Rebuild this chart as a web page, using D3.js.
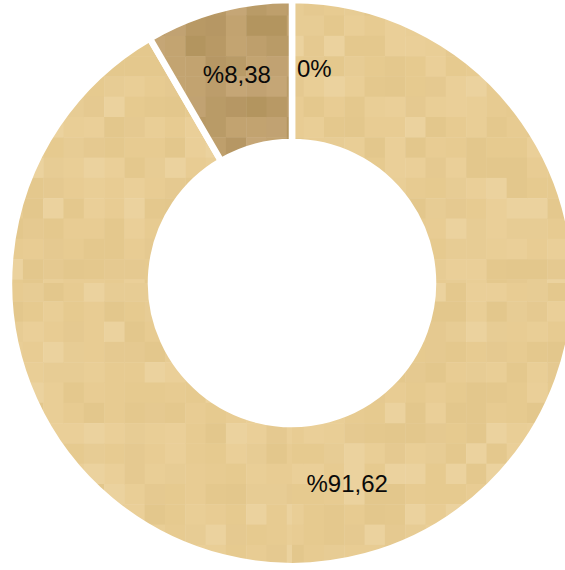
<!DOCTYPE html>
<html>
<head>
<meta charset="utf-8">
<script src="https://cdn.jsdelivr.net/npm/d3@7"></script>
<style>
  body { margin: 0; background: #fff; }
  svg { display: block; }
</style>
</head>
<body>
<div id="donut-chart"></div>
<script>
// Chart data
const sliceNames = ['C', 'A', 'B'];
const sliceValues = [0, 91.62, 8.38];
const sliceLabels = ['0%', '%91,62', '%8,38'];

const width = 565;
const height = 570;
const cx = 292;
const cy = 283;
const outerRadius = 283;
const innerRadius = 141;

const svg = d3.select('#donut-chart')
  .append('svg')
  .attr('width', width)
  .attr('height', height);

// Mosaic textures (decorative only)
const palettes = {
  light: ['#e8cc93', '#e6ca8f', '#eacf98', '#e4c88d', '#e7cb91', '#ebd29e', '#e5c990', '#e7cc94', '#e9ce96', '#e3c78c'],
  dark: ['#bc9d6b', '#c1a272', '#b89965', '#c5a676', '#b69764', '#be9f6c', '#c3a471', '#b99b67', '#b3955f', '#c2a370']
};
const hash = (i, j) => {
  const s = Math.sin(i * 127.1 + j * 311.7) * 43758.5453;
  return s - Math.floor(s);
};
const cell = 20.3;
const defs = svg.append('defs');
Object.keys(palettes).forEach(key => {
  const pat = defs.append('pattern')
    .attr('id', 'mosaic-' + key)
    .attr('patternUnits', 'userSpaceOnUse')
    .attr('x', 0).attr('y', 0)
    .attr('width', width).attr('height', height);
  const cells = [];
  d3.range(-1, 29).forEach(i => d3.range(-1, 29).forEach(j => cells.push([i, j])));
  pat.selectAll('rect')
    .data(cells)
    .enter()
    .append('rect')
    .attr('x', d => 11.7 + d[0] * cell)
    .attr('y', d => -2 + d[1] * cell)
    .attr('width', cell + 0.5)
    .attr('height', cell + 0.5)
    .attr('fill', d => {
      const p = palettes[key];
      return p[Math.floor(hash(d[0], d[1]) * p.length)];
    });
});
const fills = { A: 'url(#mosaic-light)', B: 'url(#mosaic-dark)', C: 'url(#mosaic-light)' };

const pie = d3.pie().sort(null).value(d => d.value);
const arcs = pie(sliceNames.map((name, i) => ({ name, value: sliceValues[i], label: sliceLabels[i] })));

const arc = d3.arc().innerRadius(innerRadius).outerRadius(outerRadius);
const labelArc = d3.arc().innerRadius(212).outerRadius(212);

const g = svg.append('g').attr('transform', `translate(${cx},${cy})`);

g.selectAll('.slice')
  .data(arcs)
  .enter()
  .append('path')
  .attr('class', 'slice')
  .attr('d', arc)
  .attr('fill', d => fills[d.data.name])
  .attr('stroke', '#fff')
  .attr('stroke-width', 6.5)
  .attr('stroke-linejoin', 'miter');

// Labels
g.selectAll('.label')
  .data(arcs)
  .enter()
  .append('text')
  .attr('class', 'label')
  .attr('transform', d => {
    const [x, y] = labelArc.centroid(d);
    const shift = d.endAngle - d.startAngle === 0 ? 5 : 0;
    return `translate(${x + shift},${y})`;
  })
  .attr('dy', d => d.endAngle - d.startAngle === 0 ? '0.25em' : '0.19em')
  .attr('text-anchor', d => d.endAngle - d.startAngle === 0 ? 'start' : 'middle')
  .style('font-family', '"Liberation Sans", Arial, sans-serif')
  .style('font-size', '24px')
  .style('fill', '#0a0a0a')
  .text(d => d.data.label);
</script>
</body>
</html>
